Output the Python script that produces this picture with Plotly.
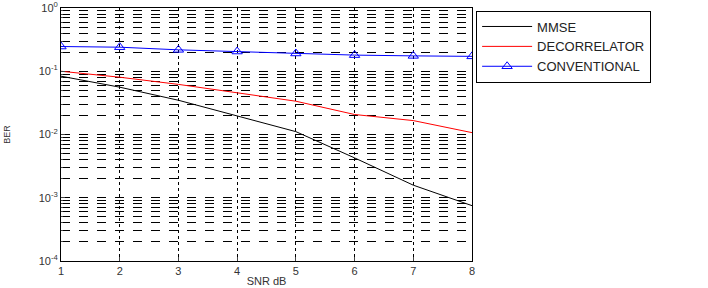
import plotly.graph_objects as go

snr = [1, 2, 3, 4, 5, 6, 7, 8]
mmse = [0.0835, 0.056, 0.0348, 0.0198, 0.0111, 0.00427, 0.00158, 0.00075]
decorr = [0.100, 0.0805, 0.062, 0.0453, 0.0336, 0.0207, 0.0166, 0.0107]
conv = [0.246, 0.240, 0.218, 0.205, 0.191, 0.180, 0.175, 0.172]
ytickvals = [1e-4, 1e-3, 1e-2, 1e-1, 1]
yticktext = ["10<sup>-4</sup>", "10<sup>-3</sup>", "10<sup>-2</sup>", "10<sup>-1</sup>", "10<sup>0</sup>"]
minor_vals = [k * 10.0 ** d for d in range(-4, 0) for k in range(2, 10)]

fig = go.Figure()
fig.add_trace(go.Scatter(x=snr, y=mmse, mode="lines", name="MMSE",
                         line=dict(color="black", width=1)))
fig.add_trace(go.Scatter(x=snr, y=decorr, mode="lines", name="DECORRELATOR",
                         line=dict(color="red", width=1)))
fig.add_trace(go.Scatter(x=snr, y=conv, mode="lines+markers", name="CONVENTIONAL",
                         line=dict(color="blue", width=1),
                         marker=dict(symbol="triangle-up-open", size=9, color="blue")))

fig.update_layout(
    width=708, height=288,
    margin=dict(l=61, r=236, t=8, b=27),
    paper_bgcolor="white", plot_bgcolor="white",
    font=dict(family="Liberation Sans, Arial", size=11, color="#333"),
    legend=dict(x=1.01, y=0.99, xanchor="left", yanchor="top",
                bordercolor="black", borderwidth=1, bgcolor="white",
                font=dict(size=13, color="#222"), tracegroupgap=0,
                itemwidth=50),
    xaxis=dict(range=[1, 8], dtick=1, showgrid=True, gridcolor="black",
               griddash="dot", gridwidth=1, showline=True, linecolor="black",
               mirror=True, ticks="inside", ticklen=4, zeroline=False,
               automargin=False,
               title=dict(text="SNR dB", standoff=1, font=dict(size=11))),
    yaxis=dict(type="log", range=[-4, 0], tickmode="array", tickvals=ytickvals,
               ticktext=yticktext, ticklabeloverflow="allow", automargin=False,
               showgrid=True, gridcolor="black", griddash="dash", gridwidth=1,
               showline=True, linecolor="black", mirror=True,
               ticks="inside", ticklen=4, zeroline=False,
               minor=dict(tickmode="array", tickvals=minor_vals, showgrid=True,
                          gridcolor="black", griddash="dash",
                          gridwidth=1, ticks="inside", ticklen=2),
               title=dict(text="BER", standoff=26, font=dict(size=9))),
)
fig.write_html("out.html")
